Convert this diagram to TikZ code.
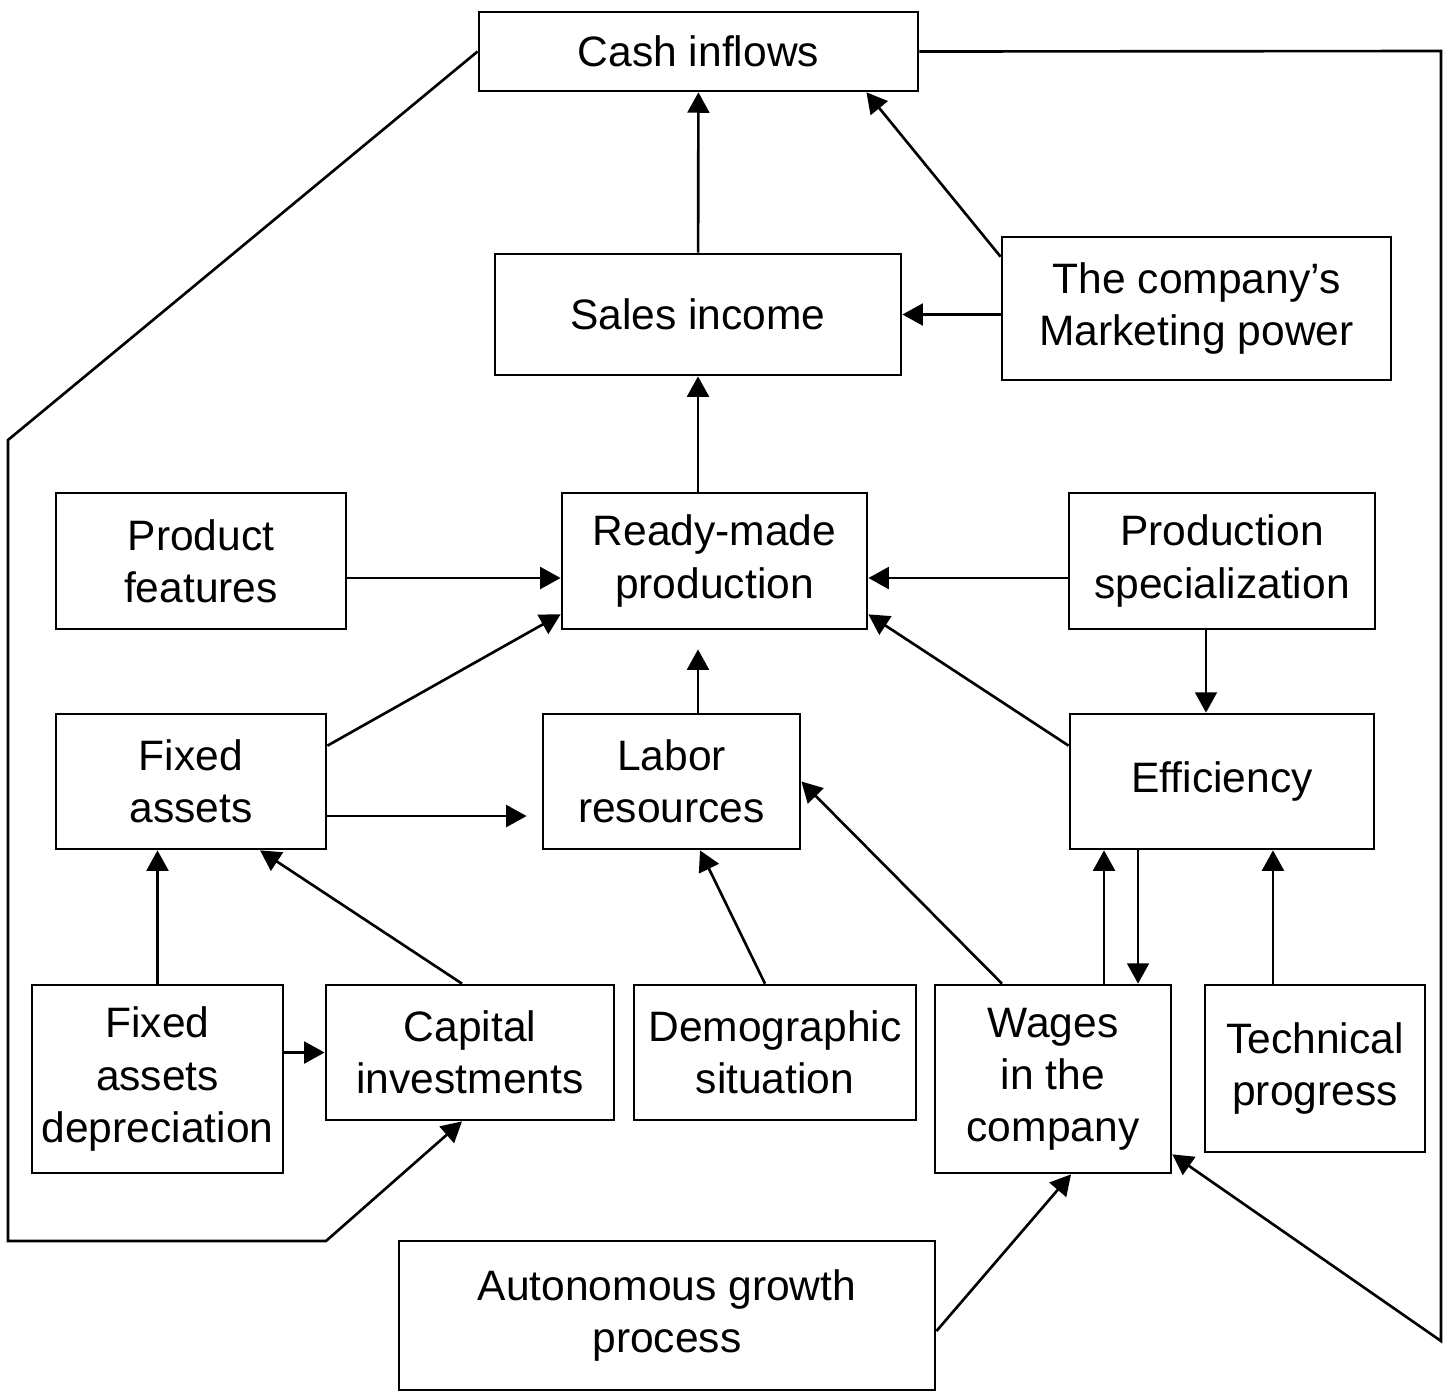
\documentclass[tikz,border=0pt]{standalone}
\usepackage{fontspec}
\setmainfont{Liberation Sans}
\usetikzlibrary{arrows.meta}
\newcommand{\boxfont}{\fontsize{12.1}{14.8}\selectfont}

\begin{document}
\begin{tikzpicture}
		[x=0.01cm,y=-0.01cm,
		box/.style={draw=black, line width=0.75pt, align=center, inner sep=0pt, font=\boxfont},
		link/.style={line width=0.75pt, color=black, -{Triangle[length=5.8pt,width=6.2pt]}}]
		\useasboundingbox (0,0) rectangle (1448,1393);
		\node (cash) [box, minimum width=4.39cm, minimum height=0.79cm] at (698.5,51.5) {Cash inflows};
		\node (sales) [box, minimum width=4.06cm, minimum height=1.21cm] at (698,314.5) {Sales income};
		\node (market) [box, minimum width=3.89cm, minimum height=1.43cm] at (1196.5,308.5) {The company's\\Marketing power};
		\node (feat) [box, minimum width=2.90cm, minimum height=1.36cm] at (201,561) {Product\\features};
		\node (ready) [box, minimum width=3.05cm, minimum height=1.36cm] at (714.5,561) {Ready-made\\production};
		\node (spec) [box, minimum width=3.06cm, minimum height=1.36cm] at (1222,561) {Production\\specialization};
		\node (fixed) [box, minimum width=2.70cm, minimum height=1.35cm] at (191,781.5) {Fixed\\assets};
		\node (labor) [box, minimum width=2.57cm, minimum height=1.35cm] at (671.5,781.5) {Labor\\resources};
		\node (eff) [box, minimum width=3.04cm, minimum height=1.35cm] at (1222,781.5) {Efficiency};
		\node (depr) [box, minimum width=2.51cm, minimum height=1.88cm] at (157.5,1079) {Fixed\\assets\\depreciation};
		\node (capinv) [box, minimum width=2.88cm, minimum height=1.35cm] at (470,1052.5) {Capital\\investments};
		\node (demo) [box, minimum width=2.82cm, minimum height=1.35cm] at (775,1052.5) {Demographic\\situation};
		\node (wages) [box, minimum width=2.36cm, minimum height=1.88cm] at (1053,1079) {Wages\\in the\\company};
		\node (tech) [box, minimum width=2.20cm, minimum height=1.67cm] at (1315,1068.5) {Technical\\progress};
		\node (auto) [box, minimum width=5.36cm, minimum height=1.49cm] at (667,1315.5) {Autonomous growth\\process};
		\coordinate (loopne) at (1441,51);
		\coordinate (loopse) at (1441,1341);
		\coordinate (loopnw) at (8,440);
		\coordinate (loopsw) at (8,1241);
		\coordinate (loopsm) at (326,1241);
		\draw [link] (sales) to (cash);
		\draw [link] ([yshift=-0.21cm]market.north west) to ([xshift=-0.53cm]cash.south east);
		\draw [link] (market.west |- sales.east) to (sales.east);
		\draw [link] (sales.south |- ready.north) to (sales.south);
		\draw [link] ([yshift=-0.17cm]feat.east) to ([yshift=-0.17cm]ready.west);
		\draw [link] ([yshift=-0.17cm]spec.west) to ([yshift=-0.17cm]ready.east);
		\draw [link] ([yshift=-0.33cm]fixed.north east) to ([yshift=0.16cm]ready.south west);
		\draw [link, shorten >=0.19cm] (sales.south |- labor.north) to (sales.south |- ready.south);
		\draw [link] ([yshift=-0.33cm]eff.north west) to ([yshift=0.16cm]ready.south east);
		\draw [link] ([xshift=-0.16cm]spec.south) to ([xshift=-0.16cm]eff.north);
		\draw [link, shorten >=0.15cm] ([yshift=-0.345cm]fixed.east) to ([yshift=-0.345cm]labor.west);
		\draw [link] (depr.north) to (depr.north |- fixed.south);
		\draw [link] ([xshift=-0.08cm]capinv.north) to ([xshift=0.69cm]fixed.south);
		\draw [link] (depr.east |- capinv.west) to (capinv.west);
		\draw [link] ([xshift=-0.1cm]demo.north) to ([xshift=0.285cm]labor.south);
		\draw [link] ([xshift=-0.51cm]wages.north) to (labor.east);
		\draw [link] ([xshift=0.51cm]wages.north) to ([xshift=0.51cm]wages.north |- eff.south);
		\draw [link] ([xshift=0.85cm]wages.north |- eff.south) to ([xshift=0.85cm]wages.north);
		\draw [link] ([xshift=-0.42cm]tech.north) to ([xshift=-0.42cm]tech.north |- eff.south);
		\draw [link] ([yshift=-0.155cm]auto.east) to ([xshift=0.18cm]wages.south);
		\draw [link] (cash.east) -- (loopne) -- (loopse) -- ([yshift=0.2cm]wages.south east);
		\draw [link] (cash.west) -- (loopnw) -- (loopsw) -- (loopsm) -- ([xshift=-0.08cm]capinv.south);
\end{tikzpicture}
\end{document}
